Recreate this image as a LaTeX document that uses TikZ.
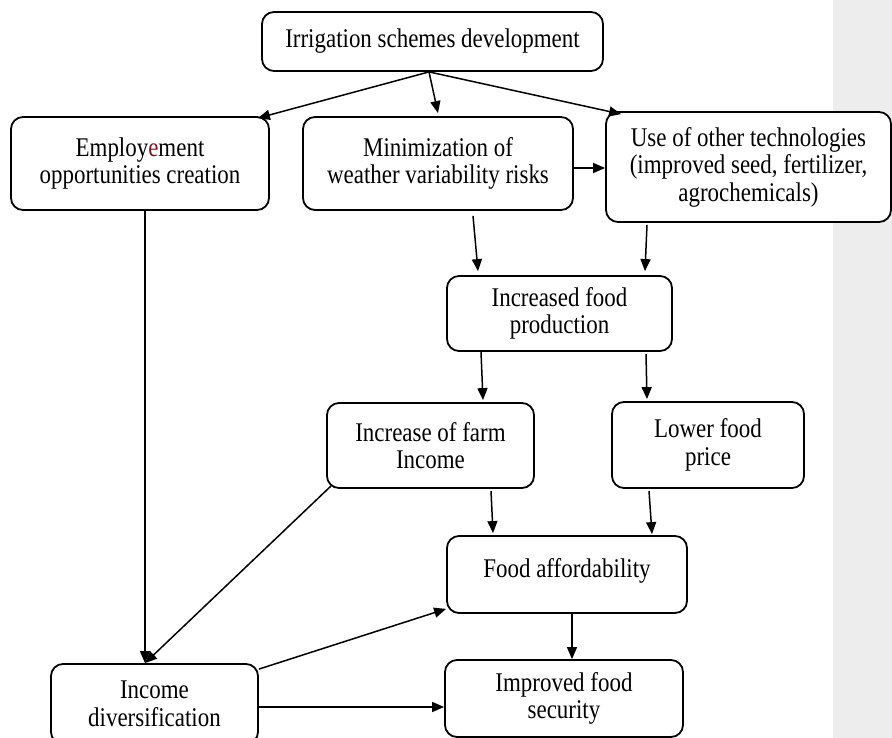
\documentclass[tikz,border=0pt]{standalone}
\usepackage{fontspec}
\setmainfont{Liberation Serif}
\newfontfamily\tallserif[FakeStretch=0.85]{Liberation Serif}
\usetikzlibrary{arrows.meta,calc}
\definecolor{panelgrey}{RGB}{237,237,237}
\definecolor{commentred}{RGB}{120,22,40}
\begin{document}
\begin{tikzpicture}[x=1pt,y=-1pt,
  box/.style={draw=black,line width=1.8pt,rounded corners=12pt,fill=white,
    align=center,inner sep=0pt,font=\tallserif\fontsize{27}{27.5}\selectfont},
  conn/.style={line width=1.5pt,-{Triangle[length=12pt,width=10pt]}}]
\useasboundingbox (0,0) rectangle (892,738);
\fill[panelgrey] (833,0) rectangle (892,738);

\node[box,minimum width=341pt,minimum height=59pt] (top) at (432.5,41.5) {Irrigation schemes development};
\node[box,minimum width=258pt,minimum height=93pt] (emp) at (140,163.5) {Employ\textcolor{commentred}{e}ment\\opportunities creation};
\node[box,minimum width=270pt,minimum height=93pt] (min) at (438,163.5) {Minimization of\\weather variability risks};
\node[box,minimum width=285pt,minimum height=110pt] (use) at (748.5,167) {Use of other technologies\\(improved seed, fertilizer,\\agrochemicals)};
\node[box,minimum width=225pt,minimum height=75pt] (ifp) at (559.5,313.5) {Increased food\\production};
\node[box,minimum width=207pt,minimum height=85pt] (farm) at (430.5,445.5) {Increase of farm\\Income};
\node[box,minimum width=192pt,minimum height=86pt] (low) at (708,445) {Lower food\\price};
\node[box,minimum width=240pt,minimum height=77pt] (aff) at (567,574.5) {Food affordability\rule[-13pt]{0pt}{1pt}};
\node[box,minimum width=207pt,minimum height=80pt] (div) at (154.5,704) {Income\\diversification};
\node[box,minimum width=238pt,minimum height=77pt] (imp) at (564,698.5) {Improved food\\security};

% connectors
\draw[conn] ([xshift=-3.5pt]top.south) -- ([xshift=-12pt,yshift=-2pt]emp.north east);
\draw[conn] ([xshift=-3.5pt]top.south) -- ([yshift=3pt]min.north);
\draw[conn] ([xshift=-3.5pt]top.south) -- ([xshift=16pt,yshift=-3pt]use.north west);
\draw[conn] ([yshift=-4.5pt]min.east) -- ([yshift=-4.5pt]min.east -| use.west);
\draw[conn] ([xshift=35pt,yshift=-5pt]min.south) -- ([xshift=-81.5pt,yshift=4pt]ifp.north);
\draw[conn] ([xshift=-101.5pt,yshift=-2pt]use.south) -- ([xshift=85.5pt,yshift=4pt]ifp.north);
\draw[conn] ([xshift=-78.5pt]ifp.south) -- ([xshift=52.5pt,yshift=2pt]farm.north);
\draw[conn] ([xshift=86.5pt,yshift=-2pt]ifp.south) -- ([xshift=-61pt,yshift=2pt]low.north);
\draw[conn] ([xshift=5pt]emp.south) -- ([xshift=5pt]emp.south |- div.north);
\draw[conn] ([xshift=5pt,yshift=3pt]farm.south west) -- ([xshift=-9.5pt]div.north);
\draw[conn] ([xshift=60.5pt,yshift=-2pt]farm.south) -- ([xshift=-74pt,yshift=2pt]aff.north);
\draw[conn] ([xshift=-59pt,yshift=-2pt]low.south) -- ([xshift=85pt,yshift=1pt]aff.north);
\draw[conn] ([yshift=-6pt]div.north east) -- ([yshift=5pt]aff.south west);
\draw[conn] ([yshift=-3pt]div.east) -- ([yshift=-3pt]div.east -| imp.west);
\draw[conn] ([xshift=5pt]aff.south) -- ([xshift=5pt]aff.south |- imp.north);
\end{tikzpicture}
\end{document}
